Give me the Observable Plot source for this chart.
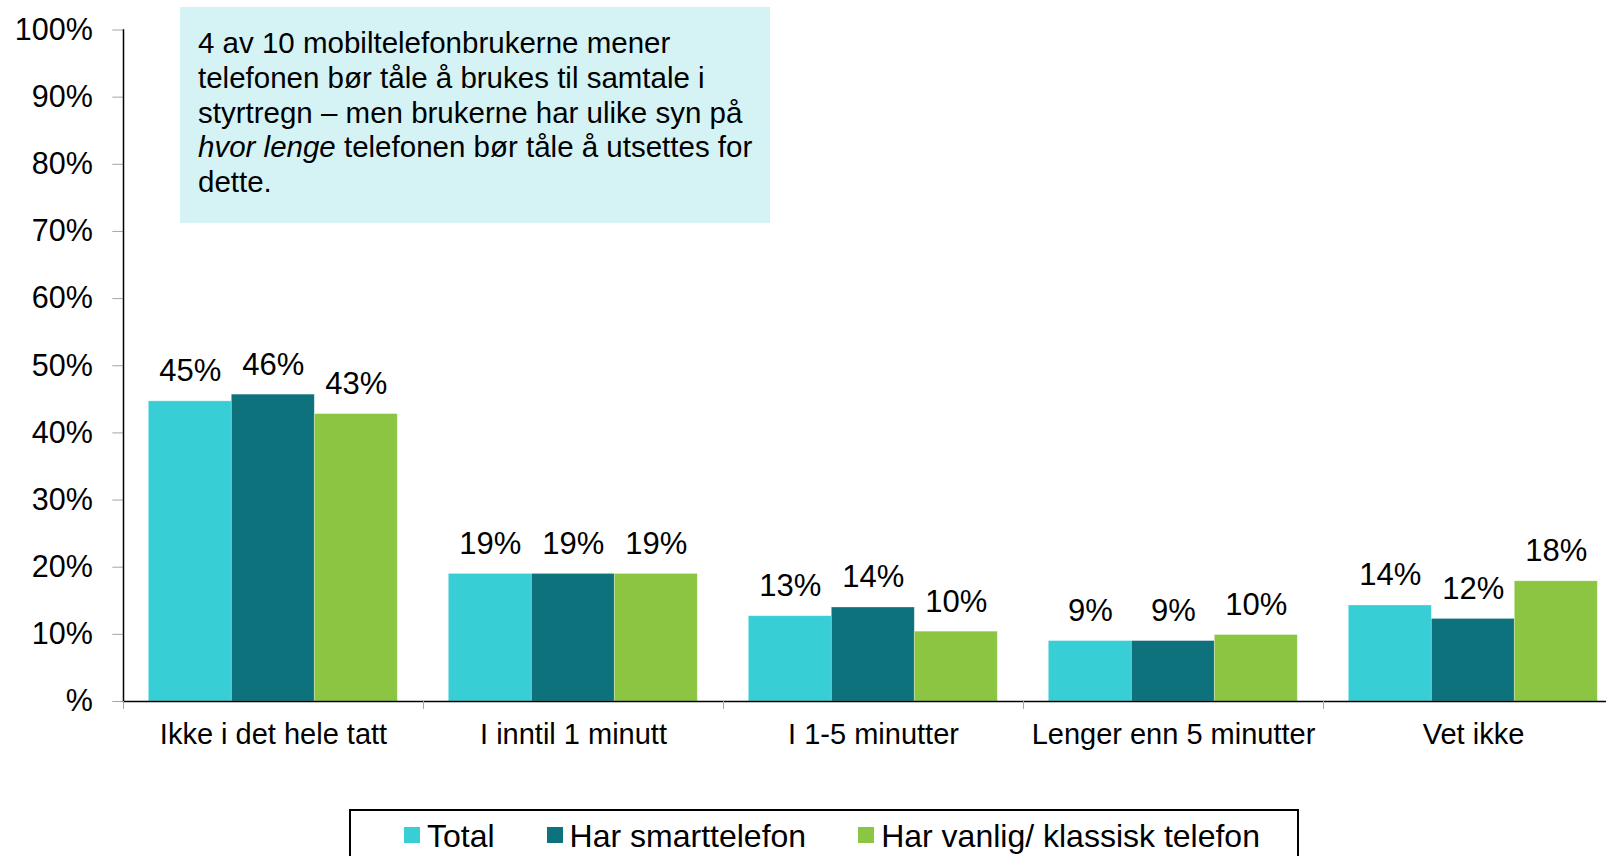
<!DOCTYPE html>
<html>
<head>
<meta charset="utf-8">
<script src="https://cdn.jsdelivr.net/npm/d3@7"></script>
<script src="https://cdn.jsdelivr.net/npm/@observablehq/plot@0.6"></script>
<style>
html, body { margin: 0; padding: 0; background: #fff; overflow: hidden; width: 1606px; height: 856px; }
#wrap { position: relative; width: 1606px; height: 856px; font-family: "Liberation Sans", Arial, sans-serif; color: #000; }
#chart svg { display: block; }
#note { position: absolute; left: 180px; top: 7px; width: 590px; height: 216px; box-sizing: border-box;
  background: #d5f3f5; padding: 19px 0 0 18px; font-size: 29.5px; line-height: 34.8px; white-space: nowrap; }
#legend { position: absolute; left: 349px; top: 809px; width: 950px; height: 70px; box-sizing: border-box;
  border: 2px solid #000; background: #fff; padding: 6px 0 0 53px; font-size: 32px; line-height: 38px; white-space: nowrap; }
.item { display: inline-block; margin-right: 52px; }
.sw { display: inline-block; width: 16px; height: 16px; margin: 0 7px 4px 0; vertical-align: baseline; }
</style>
</head>
<body>
<div id="wrap">
  <div id="chart"></div>
  <div id="note"></div>
  <div id="legend"></div>
</div>
<script>
// ---- data ----
const categories = ["Ikke i det hele tatt", "I inntil 1 minutt", "I 1-5 minutter", "Lenger enn 5 minutter", "Vet ikke"];
const series = ["Total", "Har smarttelefon", "Har vanlig/ klassisk telefon"];
const totalValues = [44.7, 19.0, 12.7, 9.0, 14.3];
const smartValues = [45.7, 19.0, 14.0, 9.0, 12.3];
const classicValues = [42.8, 19.0, 10.4, 9.9, 17.9];
const seriesColors = ["#38ced6", "#0e727c", "#8bc542"];
const yTicks = [0, 10, 20, 30, 40, 50, 60, 70, 80, 90, 100];
const yTickLabels = ["%", "10%", "20%", "30%", "40%", "50%", "60%", "70%", "80%", "90%", "100%"];
const noteLines = [
  "4 av 10 mobiltelefonbrukerne mener",
  "telefonen bør tåle å brukes til samtale i",
  "styrtregn – men brukerne har ulike syn på",
  "<i>hvor lenge</i> telefonen bør tåle å utsettes for",
  "dette."
];

// ---- table ----
const valueSets = [totalValues, smartValues, classicValues];
const rows = [];
categories.forEach((c, ci) => {
  series.forEach((s, si) => rows.push({category: c, series: s, value: valueSets[si][ci]}));
});

const font = "Liberation Sans, Arial, sans-serif";
const chart = Plot.plot({
  width: 1606,
  height: 790,
  marginLeft: 122.7,
  marginRight: -17,
  marginTop: 29.5,
  marginBottom: 89,
  style: {fontFamily: font, background: "transparent", color: "#000"},
  fx: {domain: categories, padding: 0, axis: null},
  x: {domain: series, paddingInner: 0, paddingOuter: 0.295, axis: null},
  y: {domain: [0, 100], axis: null},
  color: {domain: series, range: seriesColors},
  marks: [
    Plot.barY(rows, {fx: "category", x: "series", y: "value", fill: "series",
      stroke: "#fff", strokeOpacity: 0.4, strokeWidth: 0.75}),
    Plot.text(rows, {fx: "category", x: "series", y: "value",
      text: d => Math.round(d.value) + "%", dy: -30, fontSize: 31, fill: "#000"}),
    Plot.ruleY([0], {stroke: "#000", strokeWidth: 1.5}),
    Plot.axisY({ticks: yTicks, tickFormat: d => yTickLabels[yTicks.indexOf(d)], label: null,
      tickSize: 10.7, tickPadding: 20, fontSize: 30.5, stroke: "#a6a6a6", fill: "#000"}),
    Plot.frame({anchor: "left", facetAnchor: "left", stroke: "#000", strokeWidth: 1.5}),
    Plot.axisFx({anchor: "bottom", tickSize: 0, tickPadding: 22, fontSize: 29, label: null, fill: "#000"}),
    Plot.axisFx({anchor: "bottom", tickSize: 8, dx: -150, tickFormat: () => "", stroke: "#a6a6a6", label: null})
  ]
});
document.getElementById("chart").appendChild(chart);

document.getElementById("note").innerHTML = noteLines.join("<br>");

const legend = document.getElementById("legend");
series.forEach((s, i) => {
  const item = document.createElement("span");
  item.className = "item";
  const sw = document.createElement("span");
  sw.className = "sw";
  sw.style.background = seriesColors[i];
  item.appendChild(sw);
  item.appendChild(document.createTextNode(s));
  legend.appendChild(item);
});
</script>
</body>
</html>
